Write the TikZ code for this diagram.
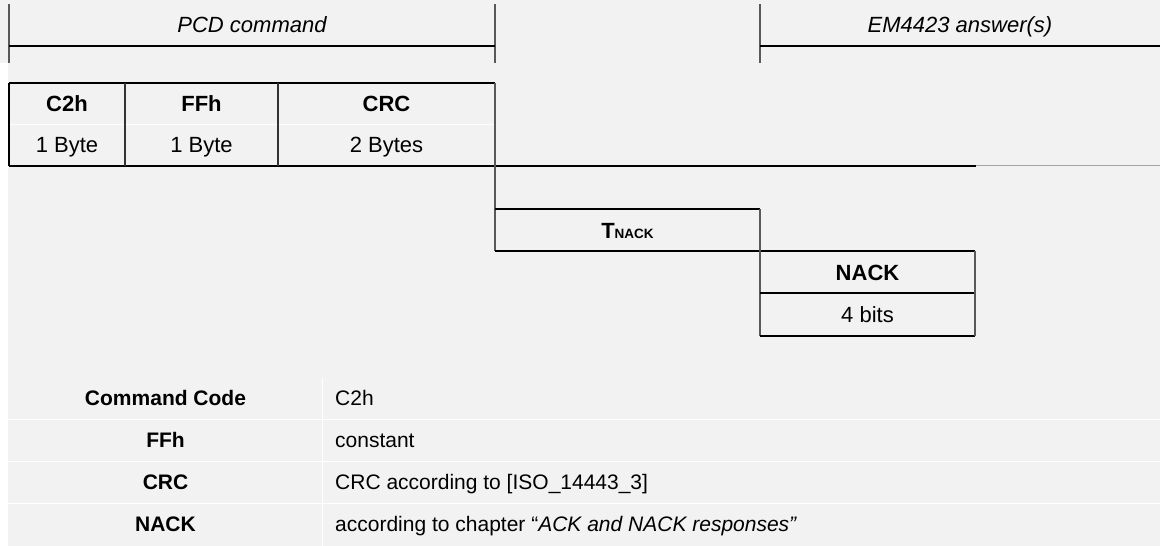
\documentclass[tikz,border=0pt]{standalone}
\usepackage{fontspec}
\setmainfont{Liberation Sans}
\newcommand\dfont{\fontsize{22}{26}\selectfont}
\newcommand\tfont{\fontsize{21}{25}\selectfont}
\definecolor{paper}{HTML}{F2F2F2}
\begin{document}
\begin{tikzpicture}[x=1pt,y=-1pt,
  rule/.style={line width=2pt,black},
  softrule/.style={line width=2pt,black!65},
  fade/.style={line width=1.6pt,black!35},
  grid/.style={line width=1.3pt,white},
  label/.style={anchor=base,inner sep=0pt,font=\dfont},
  tlabel/.style={anchor=base,inner sep=0pt,font=\tfont}]
% page and background
\useasboundingbox (0,0) rectangle (1160,546);
\fill[paper] (0,0) rectangle (1160,546);
\fill[white] (0,63) rectangle (8,546);

% header: PCD command / EM4423 answer(s)
\coordinate (hL) at (9,4);   \coordinate (hLb) at (9,63);
\coordinate (hM) at (495,4); \coordinate (hMb) at (495,63);
\coordinate (hR) at (760,4); \coordinate (hRb) at (760,63);
\draw[softrule] (hL) -- (hLb);
\draw[softrule] (hM) -- (hMb);
\draw[softrule] (hR) -- (hRb);
\draw[rule] (9,46) -- (495,46);
\draw[rule] (760,46) -- (1160,46);
\node[label,font=\dfont\itshape] (pcd) at (252,32) {PCD command};
\node[label,font=\dfont\itshape] (em) at (960,32) {EM4423 answer(s)};

% command frame
\draw[white,line width=0.8pt] (9,124.5) -- (495,124.5);
\draw[rule] (9,83) -- (495,83);
\draw[rule] (9,165.5) -- (976,165.5);
\draw[fade] (976,165.5) -- (1160,165.5);
\draw[rule] (9,83) -- (9,165.5);
\draw[rule,black!80] (125,83) -- (125,165.5);
\draw[rule,black!80] (278,83) -- (278,165.5);
\draw[softrule] (495,83) -- (495,251);
\node[label,font=\dfont\bfseries] (c2h) at (67,111) {C2h};
\node[label,font=\dfont\bfseries] (ffh) at (201.5,111) {FFh};
\node[label,font=\dfont\bfseries] (crc) at (386.5,111) {CRC};
\node[label] (b1) at (67,152) {1 Byte};
\node[label] (b2) at (201.5,152) {1 Byte};
\node[label] (b3) at (386.5,152) {2 Bytes};

% response waiting time
\draw[rule] (495,209) -- (760,209);
\draw[rule] (495,251) -- (975,251);
\draw[softrule] (760,209) -- (760,335.5);
\node[label,font=\dfont\bfseries] (tnack) at (627.5,238)
  {T{\fontsize{13.5}{14}\selectfont NACK}};

% NACK answer
\draw[rule] (760,293) -- (975,293);
\draw[rule] (760,335.5) -- (975,335.5);
\draw[softrule] (975,251) -- (975,335.5);
\node[label,font=\dfont\bfseries] (nack) at (867.5,280) {NACK};
\node[label] (bits) at (867.5,322) {4 bits};

% field description table
\draw[grid] (8,419.5) -- (1160,419.5);
\draw[grid] (8,461.5) -- (1160,461.5);
\draw[grid] (8,503.5) -- (1160,503.5);
\draw[grid] (322.5,378) -- (322.5,546);
\node[tlabel,font=\tfont\bfseries] (k1) at (165.5,405.5) {Command Code};
\node[tlabel,font=\tfont\bfseries] (k2) at (165.5,447.5) {FFh};
\node[tlabel,font=\tfont\bfseries] (k3) at (165.5,489.5) {CRC};
\node[tlabel,font=\tfont\bfseries] (k4) at (165.5,531.5) {NACK};
\node[tlabel,anchor=base west] (v1) at (335,405.5) {C2h};
\node[tlabel,anchor=base west] (v2) at (335,447.5) {constant};
\node[tlabel,anchor=base west] (v3) at (335,489.5) {CRC according to [ISO\_14443\_3]};
\node[tlabel,anchor=base west] (v4) at (335,531.5)
  {according to chapter “\textit{ACK and NACK responses”}};
\end{tikzpicture}
\end{document}
